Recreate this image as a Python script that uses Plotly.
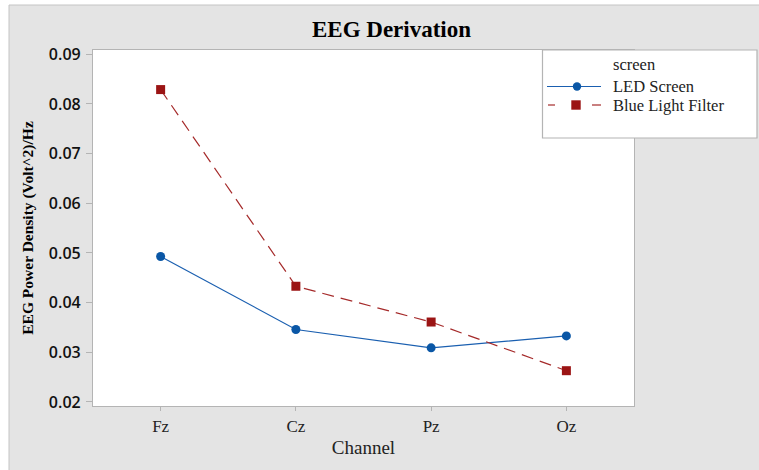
import plotly.graph_objects as go

channels = ["Fz", "Cz", "Pz", "Oz"]
led_screen = [0.0493, 0.0346, 0.0309, 0.0333]
blue_light_filter = [0.0829, 0.0433, 0.0361, 0.0263]
y_ticks = [0.02, 0.03, 0.04, 0.05, 0.06, 0.07, 0.08, 0.09]
series_names = ["LED Screen", "Blue Light Filter"]
legend_title = "screen"

W, H = 759, 470
L, R, T, B = 93, 634, 50, 406
pw, ph = R - L, B - T

def px(x):
    return (x - L) / pw

def py(y):
    return (B - y) / ph

serif = "Liberation Serif, Times New Roman, serif"
blue_line, blue_mark = "#1a5fb0", "#0a57a6"
red_line, red_mark = "#a52a2a", "#9b1414"

fig = go.Figure()
fig.add_trace(go.Scatter(
    x=channels, y=led_screen, name=series_names[0], mode="lines+markers",
    line=dict(color=blue_line, width=1.2),
    marker=dict(symbol="circle", size=9, color=blue_mark),
))
fig.add_trace(go.Scatter(
    x=channels, y=blue_light_filter, name=series_names[1], mode="lines+markers",
    line=dict(color=red_line, width=1.2, dash="12px,7px"),
    marker=dict(symbol="square", size=9, color=red_mark),
))

def pline(x0, x1, y0, y1, color, width=1.0):
    return dict(type="line", xref="paper", yref="paper", x0=px(x0), x1=px(x1),
                y0=py(y0), y1=py(y1), line=dict(color=color, width=width))

shapes = [
    # white strips outside the grey panel
    dict(type="rect", xref="paper", yref="paper", x0=px(-5), x1=px(W + 5), y0=py(5), y1=py(-5),
         fillcolor="white", line=dict(width=0), layer="below"),
    dict(type="rect", xref="paper", yref="paper", x0=px(-5), x1=px(9), y0=py(H + 5), y1=py(-5),
         fillcolor="white", line=dict(width=0), layer="below"),
    pline(9, W + 5, 5, 5, "#c4c4c4"),
    pline(9, 9, 5, H + 5, "#c4c4c4"),
    # legend box
    dict(type="rect", xref="paper", yref="paper", x0=px(542.5), x1=px(757), y0=py(138), y1=py(50),
         fillcolor="white", line=dict(color="#b4b4b4", width=1.2), layer="above"),
    # legend symbols
    pline(547, 601, 86.5, 86.5, blue_line, 1.2),
    dict(type="circle", xref="paper", yref="paper", xsizemode="pixel", ysizemode="pixel",
         xanchor=px(577), yanchor=py(86.5), x0=-4.2, x1=4.2, y0=-4.2, y1=4.2,
         fillcolor=blue_mark, line=dict(width=0), layer="above"),
    pline(548, 555, 105, 105, red_line, 1.2),
    pline(592, 601, 105, 105, red_line, 1.2),
    dict(type="rect", xref="paper", yref="paper", xsizemode="pixel", ysizemode="pixel",
         xanchor=px(576), yanchor=py(105), x0=-4.7, x1=4.7, y0=-4.7, y1=4.7,
         fillcolor=red_mark, line=dict(width=0), layer="above"),
]

def label(text, y):
    return dict(text=text, xref="paper", yref="paper", x=px(611), y=py(y), xanchor="left",
                yanchor="middle", showarrow=False,
                font=dict(family=serif, size=16.5, color="#222"))

annotations = [
    label(legend_title, 64.5),
    label(series_names[0], 86.5),
    label(series_names[1], 105),
]

fig.update_layout(
    width=W, height=H,
    margin=dict(l=L, r=W - R, t=T, b=H - B, pad=0),
    paper_bgcolor="#e4e4e4",
    plot_bgcolor="white",
    title=dict(text="<b>EEG Derivation</b>", x=391.5 / W, xanchor="center",
               y=1 - 29 / H, yanchor="middle", font=dict(family=serif, size=23, color="black")),
    showlegend=False,
    shapes=shapes,
    annotations=annotations,
    xaxis=dict(
        type="category", range=[-0.5, 3.5],
        showgrid=False, zeroline=False,
        showline=True, linecolor="#b4b4b4", linewidth=1.2, mirror=True,
        ticks="outside", ticklen=4, tickcolor="#b4b4b4",
        tickfont=dict(family=serif, size=17, color="#222"),
        title=dict(text="Channel", font=dict(family=serif, size=19, color="#222"), standoff=6),
    ),
    yaxis=dict(
        range=[0.01919, 0.09087],
        tickvals=y_ticks, ticktext=[f"{v:.2f}" for v in y_ticks],
        showgrid=False, zeroline=False,
        showline=True, linecolor="#b4b4b4", linewidth=1.2, mirror=True,
        ticks="outside", ticklen=6, tickcolor="#b4b4b4", ticklabelstandoff=2,
        tickfont=dict(family="Open Sans, sans-serif", size=16, color="#111", weight=600),
        title=dict(text="<b>EEG Power Density (Volt^2)/Hz</b>",
                   font=dict(family=serif, size=15.5, color="black"), standoff=11),
    ),
)

fig.write_html("out.html", config={"displayModeBar": False},
               post_script="document.body.style.margin='0';")
